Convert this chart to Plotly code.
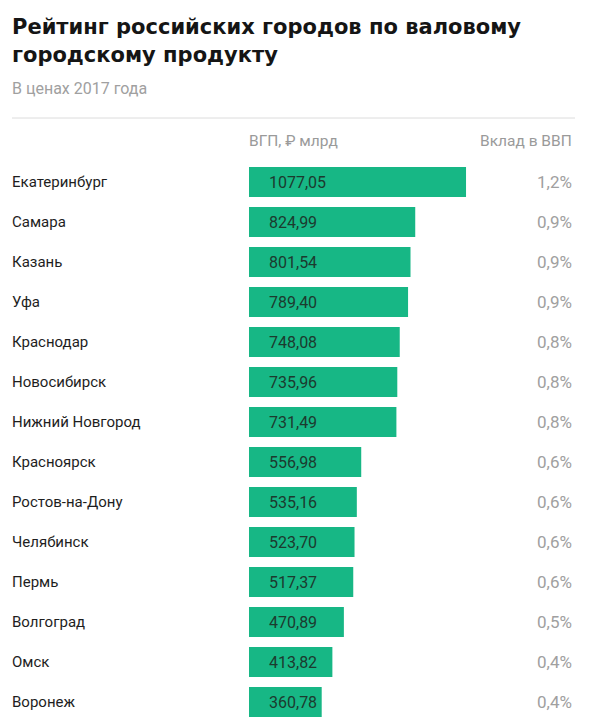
import plotly.graph_objects as go

cities = ["Екатеринбург", "Самара", "Казань", "Уфа", "Краснодар", "Новосибирск",
          "Нижний Новгород", "Красноярск", "Ростов-на-Дону", "Челябинск", "Пермь",
          "Волгоград", "Омск", "Воронеж"]
grp = [1077.05, 824.99, 801.54, 789.40, 748.08, 735.96, 731.49, 556.98, 535.16,
       523.70, 517.37, 470.89, 413.82, 360.78]
share = ["1,2%", "0,9%", "0,9%", "0,9%", "0,8%", "0,8%", "0,8%", "0,6%", "0,6%",
         "0,6%", "0,6%", "0,5%", "0,4%", "0,4%"]

title_1 = "Рейтинг российских городов по валовому"
title_2 = "городскому продукту"
subtitle = "В ценах 2017 года"
col_header_1 = "ВГП, ₽ млрд"
col_header_2 = "Вклад в ВВП"

OFF = 8  # page body margin
W, H = 605 - OFF, 726 - OFF
# plot area in page coordinates
PX0, PX1, PY0, PY1 = 249, 575, 162, 722
L, R, T, B = PX0 - OFF, W - (PX1 - OFF), PY0 - OFF, H - (PY1 - OFF)
pw = PX1 - PX0
ph = PY1 - PY0

def px_x(x):
    return (x - PX0) / pw

def px_y(y):
    return (PY1 - y) / ph

FONT = "Roboto"
TFONT = "DejaVu Sans"
GREEN = "#17b785"

fig = go.Figure(go.Bar(
    y=cities, x=grp, orientation="h",
    marker=dict(color=GREEN, line=dict(width=0)),
    width=0.75, hoverinfo="skip",
))

ann = []
for c, v, s in zip(cities, grp, share):
    ann.append(dict(x=px_x(10), xref="paper", y=c, yref="y", text=c,
                    showarrow=False, xanchor="left", yanchor="middle",
                    font=dict(family=FONT, size=15, color="#1e1e1e")))
    ann.append(dict(x=0, xref="x", y=c, yref="y", text=f"{v:.2f}".replace(".", ","),
                    showarrow=False, xanchor="left", yanchor="middle", xshift=18,
                    font=dict(family=FONT, size=16, color="#1c3a2e")))
    ann.append(dict(x=px_x(574), xref="paper", y=c, yref="y", text=s,
                    showarrow=False, xanchor="right", yanchor="middle",
                    font=dict(family=FONT, size=17, color="#a0a0a0")))

ann.append(dict(x=px_x(247), xref="paper", y=px_y(141), yref="paper", text=col_header_1,
                showarrow=False, xanchor="left", yanchor="middle",
                font=dict(family=FONT, size=15.5, color="#9a9a9a")))
ann.append(dict(x=px_x(574), xref="paper", y=px_y(141), yref="paper", text=col_header_2,
                showarrow=False, xanchor="right", yanchor="middle",
                font=dict(family=FONT, size=15.5, color="#9a9a9a")))
ann.append(dict(x=px_x(10), xref="paper", y=px_y(27), yref="paper", text="<b>" + title_1 + "</b>",
                showarrow=False, xanchor="left", yanchor="middle", align="left",
                font=dict(family=TFONT, size=21, color="#151515")))
ann.append(dict(x=px_x(10), xref="paper", y=px_y(55), yref="paper", text="<b>" + title_2 + "</b>",
                showarrow=False, xanchor="left", yanchor="middle", align="left",
                font=dict(family=TFONT, size=21, color="#151515")))
ann.append(dict(x=px_x(10), xref="paper", y=px_y(88), yref="paper", text=subtitle,
                showarrow=False, xanchor="left", yanchor="middle",
                font=dict(family=FONT, size=16, color="#a0a0a0")))

fig.update_layout(
    width=W, height=H,
    margin=dict(l=L, r=R, t=T, b=B, pad=0),
    paper_bgcolor="white", plot_bgcolor="white",
    showlegend=False,
    xaxis=dict(range=[0, pw / 0.2015], visible=False, fixedrange=True),
    yaxis=dict(categoryorder="array", categoryarray=cities, autorange="reversed",
               visible=False, fixedrange=True),
    annotations=ann,
    shapes=[dict(type="line", xref="paper", yref="paper",
                 x0=px_x(12), x1=px_x(575), y0=px_y(118), y1=px_y(118),
                 line=dict(color="#dcdcdc", width=1))],
)

fig.write_html("out.html")
